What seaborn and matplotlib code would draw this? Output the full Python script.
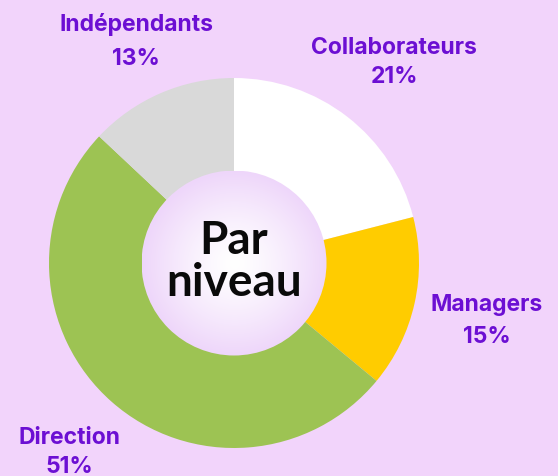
import numpy as np
import matplotlib
matplotlib.use("Agg")
import matplotlib.pyplot as plt
import seaborn as sns
from matplotlib.patches import Circle

categories = ["Collaborateurs", "Managers", "Direction", "Indépendants"]
values = [21, 15, 51, 13]
colors = ["#ffffff", "#ffcc00", "#9dc353", "#d9d9d9"]
pct_labels = ["21%", "15%", "51%", "13%"]

# label layout (pixel positions, top-origin): name y, percent y
label_x = [394, 487, 69, 136]
name_y = [48, 305, 438, 25]
pct_y = [77, 337, 467, 59]

sns.set_theme(style="white")
plt.rcParams["font.family"] = ["Lato", "DejaVu Sans"]

W, H = 558, 477
bg = "#f2d4fb"
fig = plt.figure(figsize=(W / 100, H / 100), dpi=100, facecolor=bg)
ax = fig.add_axes([0, 0, 1, 1])
ax.set_facecolor(bg)

cx, cy, R = 234, H - 264, 185
ax.pie(values, colors=colors, startangle=90, counterclock=False,
       center=(cx, cy), radius=R, frame=True,
       wedgeprops=dict(linewidth=0, edgecolor="none"))

r_in = 92.5
circ = Circle((cx, cy), r_in, facecolor="none", edgecolor="none", zorder=5)
ax.add_patch(circ)
n = 300
yy, xx = np.mgrid[-1:1:n * 1j, -1:1:n * 1j]
d = np.clip(np.sqrt(xx ** 2 + yy ** 2), 0, 1)
c0 = np.array([1.0, 1.0, 1.0])
c1 = np.array([0xee, 0xd6, 0xfa]) / 255
t = d ** 1.3
img = c0[None, None, :] * (1 - t[..., None]) + c1[None, None, :] * t[..., None]
im = ax.imshow(img, extent=(cx - r_in, cx + r_in, cy - r_in, cy + r_in),
               zorder=6, interpolation="bilinear")
im.set_clip_path(circ)

ax.set_xlim(0, W)
ax.set_ylim(0, H)
ax.set_aspect("equal")
ax.axis("off")

ax.text(cx, cy + 2, "Par\nniveau", ha="center", va="center", fontsize=33,
        fontweight="bold", color="#0a0a0a", linespacing=1.0, zorder=7)

purple = "#6c0fd3"
for cat, pct, x, yn, yp in zip(categories, pct_labels, label_x, name_y, pct_y):
    ax.text(x, H - yn, cat, ha="center", va="center", fontsize=16.5,
            fontweight="bold", color=purple, family=["Inter", "DejaVu Sans"])
    ax.text(x, H - yp, pct, ha="center", va="center", fontsize=16.5,
            fontweight="bold", color=purple, family=["Inter", "DejaVu Sans"])

fig.savefig("out.png", dpi=100, facecolor=bg)
